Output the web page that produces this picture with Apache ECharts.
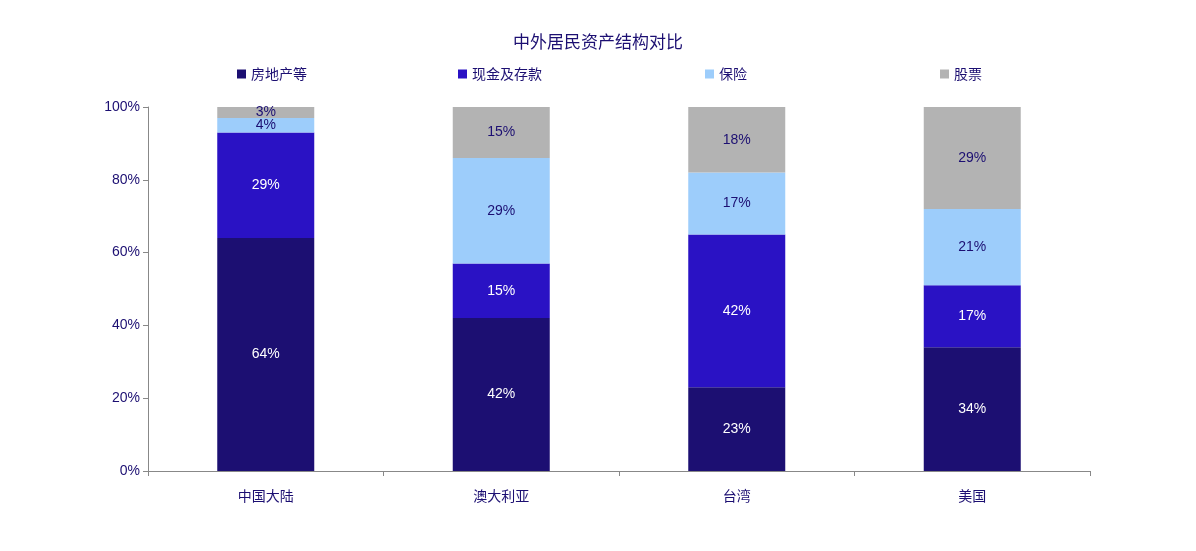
<!DOCTYPE html>
<html><head><meta charset="utf-8">
<script src="https://cdn.jsdelivr.net/npm/echarts@6/dist/echarts.min.js"></script>
<style>html,body{margin:0;background:#fff}#c{width:1196px;height:551px}</style>
</head><body><div id="c"></div>
<script>
const categories=['中国大陆','澳大利亚','台湾','美国'];
const seriesNames=['房地产等','现金及存款','保险','股票'];
const realEstate=[64,42,23,34];
const cash=[29,15,42,17];
const insurance=[4,29,17,21];
const stocks=[3,15,18,29];
const colors=['#1c0f72','#2a12c4','#9dcdfb','#b3b3b3'];
const labelColors=['#fff','#fff','#1c0f72','#1c0f72'];
const vals=[realEstate,cash,insurance,stocks];
const legendLeft=[232,453,700,935];
const ff='"Noto Sans CJK SC", sans-serif';
const chart=echarts.init(document.getElementById('c'));
chart.setOption({
  animation:false,
  title:{text:'中外居民资产结构对比',left:'center',top:28,textStyle:{fontSize:17,fontWeight:'normal',color:'#1c0f72',fontFamily:ff}},
  legend:seriesNames.map((n,i)=>({data:[n],left:legendLeft[i],top:62,icon:'rect',itemWidth:9,itemHeight:9,itemGap:4,textStyle:{fontSize:14,color:'#1c0f72',fontFamily:ff}})),
  grid:{left:148,right:106,top:107,bottom:80},
  xAxis:{type:'category',data:categories,axisLine:{lineStyle:{color:'#888'}},axisTick:{show:true,lineStyle:{color:'#888'}},axisLabel:{fontSize:14,color:'#1c0f72',margin:18,fontFamily:ff}},
  yAxis:{type:'value',min:0,max:100,interval:20,axisLine:{show:true,lineStyle:{color:'#888'}},axisTick:{show:true,lineStyle:{color:'#888'}},splitLine:{show:false},axisLabel:{formatter:'{value}%',fontSize:14,color:'#1c0f72',fontFamily:'Arial, sans-serif'}},
  series:seriesNames.map((n,i)=>({name:n,type:'bar',stack:'a',barWidth:97,data:vals[i],itemStyle:{color:colors[i]},
    label:{show:true,position:'inside',formatter:'{c}%',fontSize:14,color:labelColors[i],fontFamily:'Arial, sans-serif'}}))
});
</script></body></html>
